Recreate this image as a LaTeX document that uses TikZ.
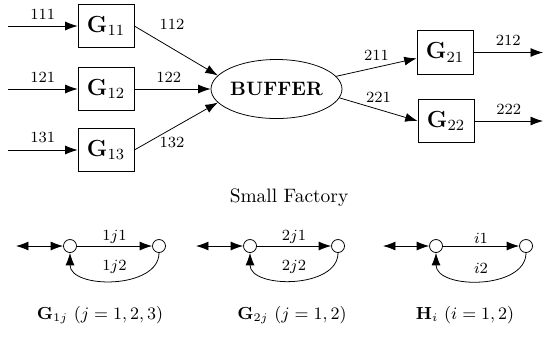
\documentclass[tikz,border=0pt]{standalone}
\usetikzlibrary{arrows.meta,shapes.geometric}
\newcommand{\px}{0.515pt}

\begin{document}
\begin{tikzpicture}[x=\px,y=-\px,
    >={Latex[length=6.4pt,width=4.6pt]},
    box/.style={draw, rectangle, minimum width=28.8pt, minimum height=22.4pt, inner sep=0pt, font=\large},
    buf/.style={draw, ellipse, minimum width=63.4pt, minimum height=30.4pt, inner sep=0pt, font=\bfseries},
    dot/.style={draw, circle, minimum size=6.7pt, inner sep=0pt},
    lbl/.style={font=\footnotesize},
    caption/.style={font=\small}]
    \useasboundingbox (0,0) rectangle (544,337);

    % First stage
    \node[box] (g11) at (106,26) {$\mathbf{G}_{11}$};
    \node[box] (g12) at (106,89) {$\mathbf{G}_{12}$};
    \node[box] (g13) at (106,150) {$\mathbf{G}_{13}$};
    \node[buf] (buf) at (276.5,89) {BUFFER};

    % Second stage
    \node[box] (g21) at (445,52.5) {$\mathbf{G}_{21}$};
    \node[box] (g22) at (446,121) {$\mathbf{G}_{22}$};

    \coordinate (in11) at (8,26);
    \coordinate (in12) at (8,89);
    \coordinate (in13) at (8,150);
    \coordinate (out21) at (543,52.5);
    \coordinate (out22) at (543,121);

    \draw[->] (in11) -- (g11) node[lbl,midway,above] {111};
    \draw[->] (in12) -- (g12) node[lbl,midway,above] {121};
    \draw[->] (in13) -- (g13) node[lbl,midway,above] {131};

    \draw[->] (g11.east) -- (buf.167) node[lbl,pos=0.45,above=6pt] {112};
    \draw[->] (g12.east) -- (buf.west) node[lbl,pos=0.45,above] {122};
    \draw[->] (g13.east) -- (buf.193) node[lbl,pos=0.45,below=1pt] {132};

    \draw[->] (buf.12) -- ([yshift=-3pt]g21.west) node[lbl,midway,above] {211};
    \draw[->] (buf.-8) -- (g22.west) node[lbl,midway,above] {221};

    \draw[->] (g21.east) -- (out21) node[lbl,midway,above] {212};
    \draw[->] (g22.east) -- (out22) node[lbl,midway,above] {222};

    \node (title) at (289,198) {Small Factory};

    % Small graphs
    \coordinate (s1) at (16,246);
    \node[dot] (a1) at (70,246) {};
    \node[dot] (b1) at (159,246) {};
    \draw[<->] (s1) -- (a1);
    \draw[->] (a1) -- (b1) node[lbl,midway,above,inner sep=1.2pt] {$1j1$};
    \draw[->] (b1.south) to[out=-90,in=-90,looseness=1.05] node[lbl,midway,above] {$1j2$} (a1.south);
    \node[caption] (cap1) at (100,315) {$\mathbf{G}_{1j}~(j=1,2,3)$};

    \coordinate (s2) at (196,246);
    \node[dot] (a2) at (250,246) {};
    \node[dot] (b2) at (338,246) {};
    \draw[<->] (s2) -- (a2);
    \draw[->] (a2) -- (b2) node[lbl,midway,above,inner sep=1.2pt] {$2j1$};
    \draw[->] (b2.south) to[out=-90,in=-90,looseness=1.05] node[lbl,midway,above] {$2j2$} (a2.south);
    \node[caption] (cap2) at (292,315) {$\mathbf{G}_{2j}~(j=1,2)$};

    \coordinate (s3) at (383,246);
    \node[dot] (a3) at (436,246) {};
    \node[dot] (b3) at (526,246) {};
    \draw[<->] (s3) -- (a3);
    \draw[->] (a3) -- (b3) node[lbl,midway,above,inner sep=1.2pt] {$i1$};
    \draw[->] (b3.south) to[out=-90,in=-90,looseness=1.05] node[lbl,midway,above] {$i2$} (a3.south);
    \node[caption] (cap3) at (465,315) {$\mathbf{H}_{i}~(i=1,2)$};

\end{tikzpicture}
\end{document}
